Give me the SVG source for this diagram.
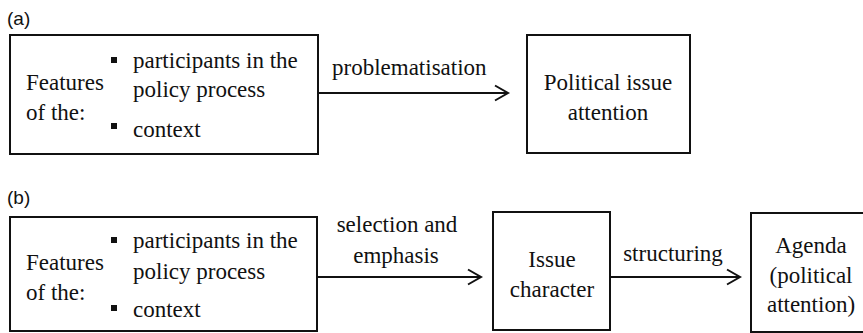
<svg xmlns="http://www.w3.org/2000/svg" width="863" height="333" viewBox="0 0 863 333">
<style>
.box{fill:#fff;stroke:#111;stroke-width:2}
.t{font-family:"Liberation Serif","Times New Roman",serif;font-size:23px;fill:#111}
.c{text-anchor:middle}
.lab{font-family:"Liberation Sans",Arial,sans-serif;font-size:19px;fill:#111}
.bul{fill:#111}
.con{stroke:#111;stroke-width:2;fill:none}
</style>
<defs>
<marker id="arr" markerUnits="userSpaceOnUse" markerWidth="18" markerHeight="18" refX="15" refY="9" orient="auto">
<path d="M2,1.5 L15,9 L2,16.5" fill="none" stroke="#111" stroke-width="2"/>
</marker>
</defs>
<rect width="863" height="333" fill="#fff"/>
<text class="lab" x="7" y="25">(a)</text>
<text class="lab" x="7" y="204">(b)</text>
<g id="a-features">
<rect class="box" x="10" y="35" width="308" height="119"/>
<text class="t" x="26" y="90">Features</text>
<text class="t" x="26" y="120">of the:</text>
<rect class="bul" x="111" y="57" width="6" height="6"/>
<rect class="bul" x="111" y="123" width="6" height="6"/>
<text class="t" x="133" y="68">participants in the</text>
<text class="t" x="133" y="97">policy process</text>
<text class="t" x="133" y="137">context</text>
</g>
<g id="a-attention">
<rect class="box" x="527" y="35" width="163" height="118"/>
<text class="t c" x="608" y="90">Political issue</text>
<text class="t c" x="608" y="120">attention</text>
</g>
<g id="b-features">
<rect class="box" x="10" y="217" width="307" height="114"/>
<text class="t" x="26" y="270">Features</text>
<text class="t" x="26" y="300">of the:</text>
<rect class="bul" x="111" y="237" width="6" height="6"/>
<rect class="bul" x="111" y="305" width="6" height="6"/>
<text class="t" x="133" y="248">participants in the</text>
<text class="t" x="133" y="279">policy process</text>
<text class="t" x="133" y="317">context</text>
</g>
<g id="b-issue">
<rect class="box" x="493" y="212" width="117" height="118"/>
<text class="t c" x="552" y="267">Issue</text>
<text class="t c" x="552" y="297">character</text>
</g>
<g id="b-agenda">
<rect class="box" x="751" y="213" width="122" height="119"/>
<text class="t c" x="811" y="253">Agenda</text>
<text class="t c" x="811" y="283">(political</text>
<text class="t c" x="811" y="312">attention)</text>
</g>
<g id="connectors">
<line class="con" x1="319" y1="93" x2="508" y2="93" marker-end="url(#arr)"/>
<text class="t" x="332" y="75">problematisation</text>
<line class="con" x1="318" y1="277" x2="481" y2="277" marker-end="url(#arr)"/>
<text class="t c" x="397" y="232">selection and</text>
<text class="t c" x="396" y="263">emphasis</text>
<line class="con" x1="611" y1="277" x2="740" y2="277" marker-end="url(#arr)"/>
<text class="t c" x="673" y="261">structuring</text>
</g>
</svg>
